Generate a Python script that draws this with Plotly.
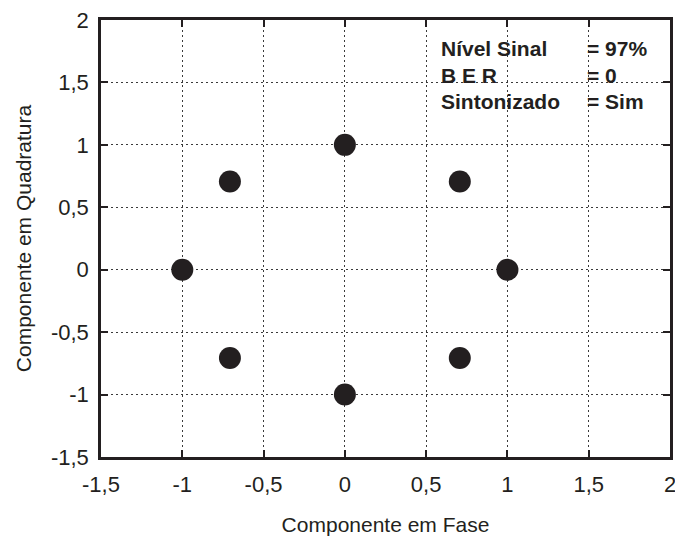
import plotly.graph_objects as go

# Data: 8-PSK constellation
i_vals = [1.0, 0.707, 0.0, -0.707, -1.0, -0.707, 0.0, 0.707]
q_vals = [0.0, 0.707, 1.0, 0.707, 0.0, -0.707, -1.0, -0.707]

tick_vals = [-1.5, -1, -0.5, 0, 0.5, 1, 1.5, 2]
tick_text = ["-1,5", "-1", "-0,5", "0", "0,5", "1", "1,5", "2"]

info_labels = ["Nível Sinal", "B E R", "Sintonizado"]
info_values = ["= 97%", "= 0", "= Sim"]

FONT = "Liberation Sans, Arial, sans-serif"
INK = "#231f20"

fig = go.Figure()
fig.add_trace(go.Scatter(
    x=i_vals, y=q_vals, mode="markers",
    marker=dict(size=22, color=INK, line=dict(width=0)),
    showlegend=False, hoverinfo="skip"))

axis_common = dict(
    tickvals=tick_vals, ticktext=tick_text,
    showgrid=True, gridcolor="#3a3a3a", griddash="2px,3px", gridwidth=1,
    showline=True, linecolor=INK, linewidth=2.5, mirror="allticks",
    ticks="inside", ticklen=7, tickwidth=2, tickcolor=INK,
    zeroline=False, automargin=False, ticklabeloverflow="allow",
    tickfont=dict(family=FONT, size=22, color=INK),
)

fig.update_xaxes(range=[-1.5, 2], ticklabelstandoff=6,
                 title=dict(text="Componente em Fase",
                            font=dict(family=FONT, size=21, color=INK), standoff=22),
                 **axis_common)
fig.update_yaxes(range=[-1.5, 2], ticklabelstandoff=5,
                 title=dict(text="Componente em Quadratura",
                            font=dict(family=FONT, size=21, color=INK), standoff=14),
                 **axis_common)

line_y = [48, 75, 102]
for lbl, val, yy in zip(info_labels, info_values, line_y):
    fig.add_annotation(text="<b>%s</b>" % lbl, xref="paper", yref="paper",
                       x=(439 - 101) / (670 - 101), y=(457 - yy) / (457 - 20),
                       xanchor="left", yanchor="middle", showarrow=False,
                       font=dict(family=FONT, size=21, color=INK))
    fig.add_annotation(text="<b>%s</b>" % val, xref="paper", yref="paper",
                       x=(585 - 101) / (670 - 101), y=(457 - yy) / (457 - 20),
                       xanchor="left", yanchor="middle", showarrow=False,
                       font=dict(family=FONT, size=21, color=INK))

fig.update_layout(
    width=675, height=541,
    margin=dict(l=101, r=5, t=20, b=84),
    paper_bgcolor="white", plot_bgcolor="white",
    font=dict(family=FONT, color=INK),
)

fig.write_html("out.html")
